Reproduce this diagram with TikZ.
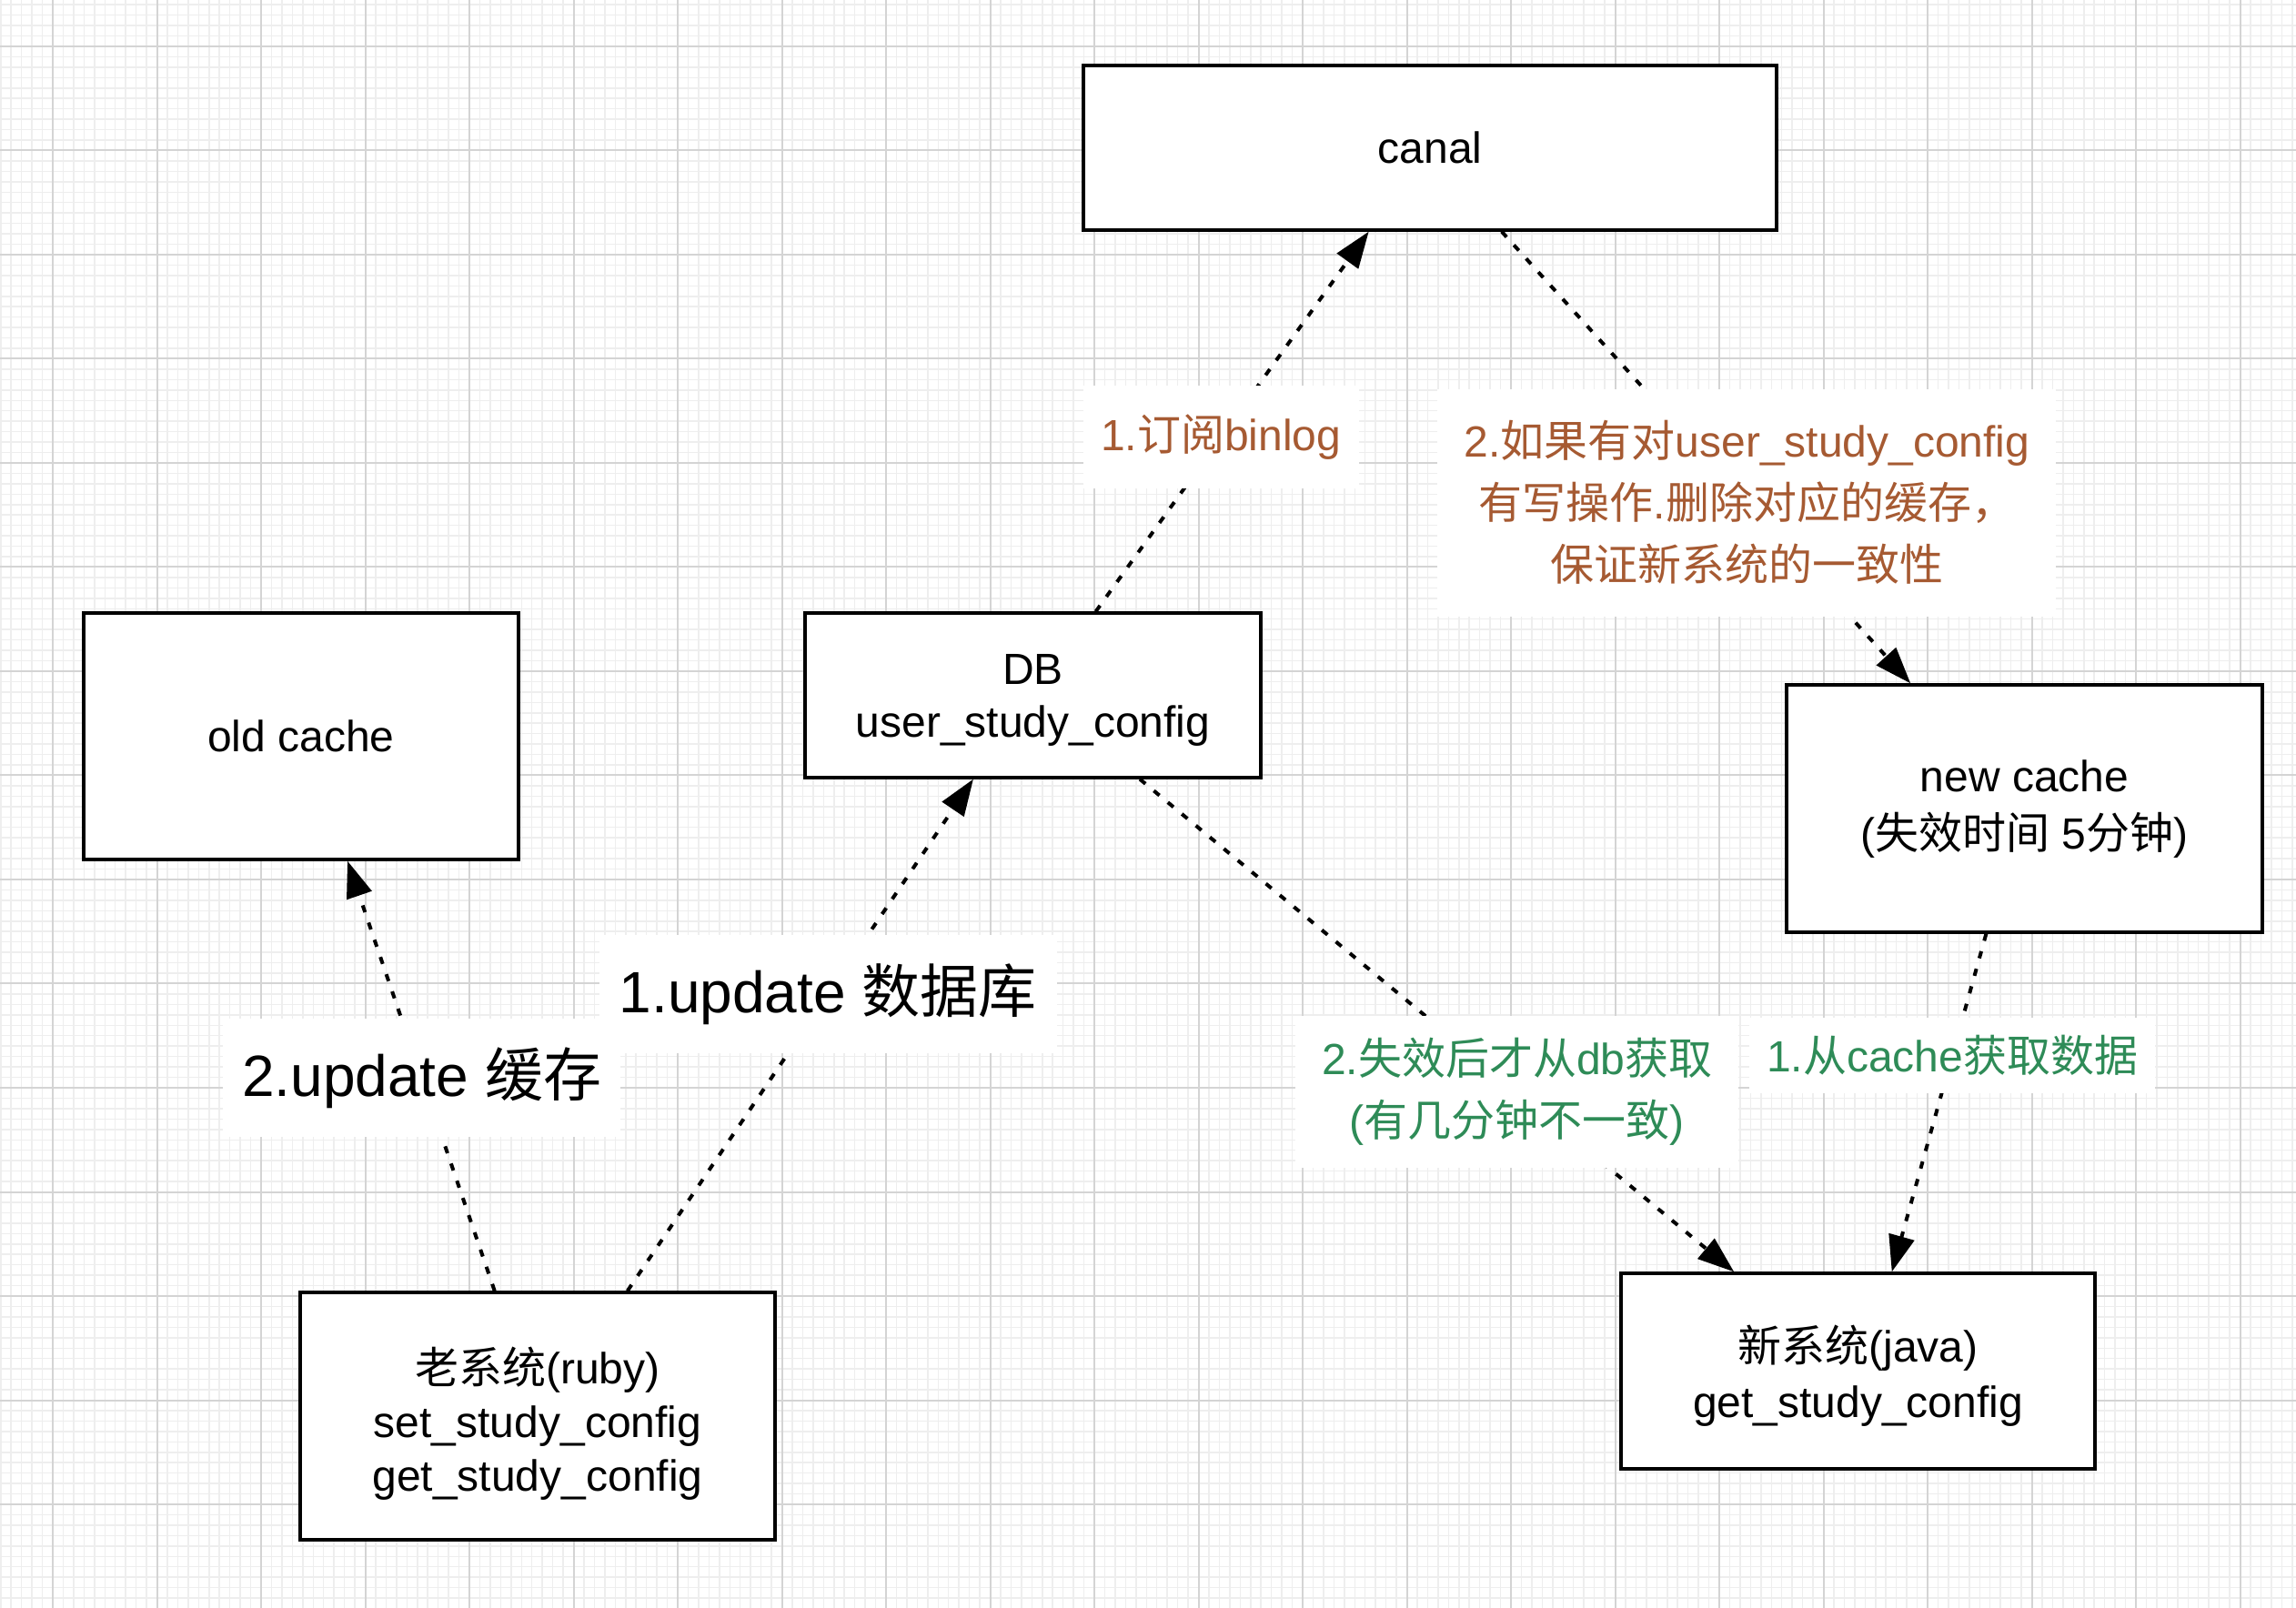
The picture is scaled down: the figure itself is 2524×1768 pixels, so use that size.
\documentclass[tikz,border=0pt]{standalone}
\usepackage{fontspec}
\setmainfont{Liberation Sans}
\newfontfamily\cjk{Noto Sans CJK SC}
\usetikzlibrary{arrows.meta,calc}
\definecolor{brn}{HTML}{A65A32}
\definecolor{grn}{HTML}{2E8B57}
\definecolor{gmin}{HTML}{EEEEEE}
\definecolor{gmaj}{HTML}{D4D4D4}
\newcommand{\topst}[1]{\rule{0pt}{#1}}
\newcommand{\botst}{\rule[-5pt]{0pt}{0pt}}
\begin{document}
\begin{tikzpicture}[x=0.3pt,y=-0.3pt,
  box/.style={draw=black,line width=1pt,fill=white,rectangle,inner sep=0pt,align=center,font=\fontsize{14.4}{17.6}\selectfont},
  conn/.style={line width=1.2pt,dash pattern=on 2.4pt off 3.6pt,-{Triangle[length=12pt,width=8.5pt]}},
  lbl/.style={fill=white,inner sep=0pt,align=center,font=\fontsize{14.4}{20.4}\selectfont},
  biglbl/.style={fill=white,inner sep=0pt,align=center,font=\fontsize{19.2}{23}\selectfont}]
\useasboundingbox (0,0) rectangle (2524,1768);
\fill[white] (0,0) rectangle (2524,1768);
\begin{scope}
\clip (0,0) rectangle (2524,1768);
\foreach \i in {-5,...,216}{\draw[gmin,line width=0.45pt] ({58+11.45*\i},0) -- ({58+11.45*\i},1768);}
\foreach \i in {-5,...,151}{\draw[gmin,line width=0.45pt] (0,{51+11.45*\i}) -- (2524,{51+11.45*\i});}
\foreach \i in {-1,...,22}{\draw[gmaj,line width=0.6pt] ({58+114.5*\i},0) -- ({58+114.5*\i},1768);}
\foreach \i in {-1,...,16}{\draw[gmaj,line width=0.6pt] (0,{51+114.5*\i}) -- (2524,{51+114.5*\i});}
\end{scope}

\node[box,minimum width=228.6pt,minimum height=54.3pt] (canal) at (1572,162.5) {canal};
\node[box,minimum width=143.4pt,minimum height=81.3pt] (old) at (331,809.5) {old cache};
\node[box,minimum width=150.3pt,minimum height=54.3pt,font=\fontsize{14.4}{17.4}\selectfont] (db) at (1135.5,764.5) {\topst{15pt}DB\\user\_study\_config\botst};
\node[box,minimum width=156.9pt,minimum height=81.6pt,font=\fontsize{14.4}{18.9}\selectfont] (newc) at (2225.5,889) {\topst{13.1pt}new cache\\({\cjk 失效时间} 5{\cjk 分钟})\botst};
\node[box,minimum width=156.6pt,minimum height=81.6pt,font=\fontsize{14.4}{17.65}\selectfont] (oldsys) at (591,1557) {\topst{18.9pt}{\cjk 老系统}(ruby)\\set\_study\_config\\get\_study\_config\botst};
\node[box,minimum width=156.3pt,minimum height=64.5pt,font=\fontsize{14.4}{18.4}\selectfont] (newsys) at (2042.5,1507.5) {\topst{17.4pt}{\cjk 新系统}(java)\\get\_study\_config\botst};

\draw[conn] ($(db.north west)!0.637!(db.north east)$) -- node[lbl,text=brn,pos=0.459,minimum width=91pt,minimum height=34pt]{1.{\cjk 订阅}binlog} ($(canal.south west)!0.412!(canal.south east)$);
\draw[conn] ($(canal.south west)!0.603!(canal.south east)$) -- node[lbl,text=brn,pos=0.6,minimum width=204pt,minimum height=75pt]{2.{\cjk 如果有对}user\_study\_config\\{\cjk 有写操作}.{\cjk 删除对应的缓存，}\\{\cjk 保证新系统的一致性}} ($(newc.north west)!0.262!(newc.north east)$);
\draw[conn] ($(oldsys.north west)!0.688!(oldsys.north east)$) -- node[biglbl,pos=0.58,minimum width=151pt,minimum height=39pt]{1.update {\cjk 数据库}} ($(db.south west)!0.37!(db.south east)$);
\draw[conn] ($(oldsys.north west)!0.41!(oldsys.north east)$) -- node[biglbl,pos=0.495,minimum width=131pt,minimum height=39pt]{2.update {\cjk 缓存}} ($(old.south west)!0.606!(old.south east)$);
\draw[conn] ($(db.south west)!0.733!(db.south east)$) -- node[lbl,text=grn,pos=0.635,minimum width=146pt,minimum height=50pt]{2.{\cjk 失效后才从}db{\cjk 获取}\\({\cjk 有几分钟不一致})} ($(newsys.north west)!0.24!(newsys.north east)$);
\draw[conn] ($(newc.south west)!0.42!(newc.south east)$) -- node[lbl,text=grn,pos=0.36,minimum width=134pt,minimum height=25pt]{1.{\cjk 从}cache{\cjk 获取数据}} ($(newsys.north west)!0.571!(newsys.north east)$);
\end{tikzpicture}
\end{document}
